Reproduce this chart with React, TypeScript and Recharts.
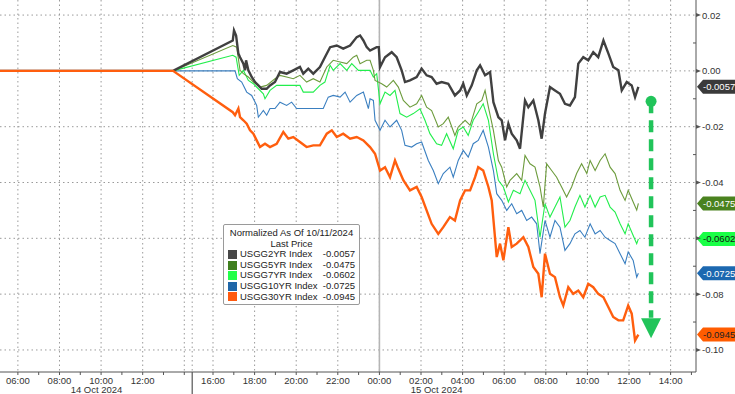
import React from 'react';
import { LineChart, Line, XAxis, YAxis, CartesianGrid, ReferenceLine, ReferenceDot } from 'recharts';

// time axis is in hours from 14 Oct 00:00 (15 Oct 00:00 = 24); the 14 Oct morning session sits ~0.62h right
const usgg2yr: [number, number][] = [
  [5.76, 0], [14.08, 0], [16.95, 0.0109], [17.01, 0.0145], [17.11, 0.0127], [17.22, 0.0062], [17.3, 0.0049],
  [17.46, 0.0026], [17.54, 0.0002], [17.59, 0.0038], [17.7, 0.0002], [17.86, -0.0022], [18.02, -0.004],
  [18.18, -0.0052], [18.34, -0.0064], [18.58, -0.0064], [18.74, -0.0052], [18.98, -0.004], [19.22, -0.0004],
  [19.54, -0.001], [19.86, 0.0002], [20.18, 0.0014], [20.34, -0.001], [20.58, 0.0008], [20.82, -0.001],
  [21.14, 0.0014], [21.38, 0.0049], [21.63, 0.0085], [21.95, 0.0091], [22.26, 0.008], [22.59, 0.0091],
  [22.91, 0.0121], [23.07, 0.0127], [23.23, 0.0109], [23.39, 0.0085], [23.55, 0.0073], [23.87, 0.0085],
  [23.97, 0.0085], [24.03, 0.0014], [24.27, 0.0049], [24.59, 0.0067], [24.83, 0.0049], [25.07, 0.0002],
  [25.23, -0.004], [25.47, -0.0034], [25.79, -0.0022], [26.03, 0.0008], [26.27, -0.0016], [26.51, -0.0022],
  [26.75, -0.0046], [26.99, -0.004], [27.31, -0.0046], [27.63, -0.0088], [27.88, -0.007], [28.03, -0.0046],
  [28.2, -0.0088], [28.44, -0.0052], [28.68, 0.0002], [28.84, 0.002], [29.08, -0.0016], [29.32, -0.0004],
  [29.48, -0.0112], [29.72, -0.0166], [29.88, -0.0177], [30.04, -0.0249], [30.2, -0.0189], [30.36, -0.0225],
  [30.6, -0.0249], [30.76, -0.0279], [31.0, -0.0106], [31.16, -0.013], [31.4, -0.0106], [31.64, -0.0177],
  [31.8, -0.0243], [31.96, -0.0153], [32.2, -0.0058], [32.44, -0.007], [32.68, -0.0082], [32.92, -0.0118],
  [33.16, -0.0124], [33.4, -0.0094], [33.56, 0.0026], [33.8, 0.0049], [34.04, 0.0038], [34.28, 0.0067],
  [34.52, 0.0049], [34.77, 0.0109], [35.01, 0.0062], [35.24, 0.0014], [35.49, 0.0002], [35.65, -0.007],
  [35.89, -0.004], [36.13, -0.0052], [36.29, -0.0094], [36.45, -0.0057],
];

const usgg5yr: [number, number][] = [
  [5.76, 0], [14.08, 0], [16.95, 0.0091], [17.14, 0.0085], [17.3, 0.0002], [17.46, -0.001], [17.7, -0.0022],
  [17.94, -0.004], [18.26, -0.0058], [18.58, -0.0052], [18.98, -0.0028], [19.22, -0.0016], [19.54, -0.0022],
  [19.86, -0.0028], [20.18, -0.0016], [20.5, -0.004], [20.82, -0.0028], [21.14, -0.004], [21.47, 0.0014],
  [21.78, 0.0038], [22.11, 0.0032], [22.43, 0.0026], [22.74, 0.0049], [22.91, 0.0056], [23.07, 0.0026],
  [23.39, 0.0038], [23.55, 0.0038], [23.71, 0.0002], [23.79, -0.0034], [24.11, -0.0046], [24.35, -0.0058],
  [24.67, -0.0034], [24.91, -0.0058], [25.15, -0.0106], [25.47, -0.013], [25.79, -0.0118], [26.03, -0.0088],
  [26.27, -0.013], [26.51, -0.0142], [26.83, -0.0201], [27.07, -0.0189], [27.31, -0.0166], [27.63, -0.0231],
  [27.79, -0.0201], [28.12, -0.0177], [28.36, -0.0195], [28.68, -0.0118], [28.92, -0.0106], [29.08, -0.007],
  [29.24, -0.013], [29.48, -0.0213], [29.72, -0.0321], [29.88, -0.0345], [30.12, -0.0416], [30.28, -0.0392],
  [30.6, -0.0368], [30.84, -0.0392], [31.0, -0.0303], [31.24, -0.0333], [31.48, -0.0345], [31.72, -0.0416],
  [31.88, -0.0488], [32.04, -0.0333], [32.28, -0.0357], [32.52, -0.0381], [32.76, -0.0416], [33.0, -0.0452],
  [33.24, -0.0416], [33.48, -0.0368], [33.72, -0.0333], [33.97, -0.0368], [34.13, -0.0321], [34.37, -0.0357],
  [34.61, -0.0321], [34.85, -0.0297], [35.09, -0.0345], [35.33, -0.0368], [35.57, -0.0428], [35.81, -0.0464],
  [35.96, -0.0428], [36.2, -0.047], [36.37, -0.0499], [36.45, -0.0475],
];

const usgg7yr: [number, number][] = [
  [5.76, 0], [14.08, 0], [16.95, 0.0056], [17.11, 0.0049], [17.26, -0.0016], [17.46, 0.0002], [17.7, -0.0034],
  [17.94, -0.0046], [18.18, -0.0064], [18.42, -0.0082], [18.5, -0.01], [18.74, -0.007], [19.06, -0.0052],
  [19.54, -0.0052], [20.18, -0.0052], [20.34, -0.0076], [20.82, -0.0076], [21.14, -0.0052], [21.38, -0.004],
  [21.63, 0.002], [21.78, 0.0002], [22.11, 0.0026], [22.43, 0.0002], [22.67, 0.0026], [22.99, 0.0002],
  [23.39, 0.0002], [23.55, 0.0002], [23.71, -0.0022], [23.87, -0.001], [24.03, -0.0118], [24.27, -0.0076],
  [24.51, -0.0088], [24.75, -0.007], [24.99, -0.0153], [25.31, -0.0166], [25.63, -0.0153], [25.95, -0.0136],
  [26.19, -0.0177], [26.43, -0.0225], [26.75, -0.0261], [26.99, -0.0267], [27.23, -0.0225], [27.55, -0.0279],
  [27.79, -0.0213], [28.03, -0.0201], [28.27, -0.0231], [28.51, -0.0177], [28.75, -0.0148], [28.99, -0.0118],
  [29.24, -0.0177], [29.48, -0.0297], [29.72, -0.0392], [29.96, -0.0416], [30.2, -0.047], [30.44, -0.0428],
  [30.76, -0.044], [31.0, -0.0392], [31.24, -0.0428], [31.48, -0.0464], [31.72, -0.0596], [31.96, -0.0476],
  [32.2, -0.0524], [32.44, -0.0488], [32.68, -0.0452], [32.92, -0.056], [33.16, -0.0536], [33.4, -0.0488],
  [33.64, -0.0446], [33.88, -0.0488], [34.13, -0.0446], [34.37, -0.0488], [34.61, -0.0452], [34.85, -0.0446],
  [35.09, -0.0488], [35.33, -0.0506], [35.57, -0.0548], [35.81, -0.0584], [35.96, -0.0548], [36.2, -0.059],
  [36.37, -0.0619], [36.45, -0.0602],
];

const usgg10yr: [number, number][] = [
  [5.76, 0], [14.08, 0], [17.06, 0], [17.17, -0.0028], [17.38, -0.004], [17.62, -0.0076], [17.86, -0.0088],
  [18.1, -0.0124], [18.18, -0.0166], [18.42, -0.0142], [18.58, -0.0159], [18.74, -0.0135], [18.98, -0.0135],
  [19.22, -0.0112], [19.54, -0.0124], [19.78, -0.0112], [20.02, -0.0135], [21.3, -0.0135], [21.54, -0.0094],
  [21.78, -0.0088], [22.11, -0.0094], [22.35, -0.0076], [22.59, -0.0112], [22.91, -0.0088], [23.23, -0.0076],
  [23.47, -0.0135], [23.55, -0.01], [23.71, -0.0106], [23.79, -0.0177], [24.03, -0.0213], [24.27, -0.0177],
  [24.51, -0.0201], [24.83, -0.0177], [25.07, -0.0213], [25.23, -0.0267], [25.55, -0.0273], [25.79, -0.0261],
  [26.03, -0.0255], [26.35, -0.0321], [26.59, -0.0357], [26.83, -0.0404], [27.07, -0.0368], [27.39, -0.0345],
  [27.55, -0.0381], [27.79, -0.0321], [28.03, -0.0285], [28.27, -0.0309], [28.51, -0.0261], [28.75, -0.0249],
  [28.99, -0.0213], [29.24, -0.0273], [29.48, -0.0357], [29.64, -0.044], [29.88, -0.0464], [30.12, -0.05],
  [30.36, -0.0476], [30.6, -0.0512], [30.84, -0.05], [31.08, -0.0536], [31.32, -0.0524], [31.56, -0.0548],
  [31.72, -0.0655], [31.96, -0.0536], [32.2, -0.0596], [32.44, -0.0536], [32.68, -0.056], [32.92, -0.0643],
  [33.16, -0.0619], [33.4, -0.0584], [33.64, -0.0572], [33.88, -0.0596], [34.13, -0.0548], [34.37, -0.0584],
  [34.61, -0.0572], [34.85, -0.0596], [35.09, -0.0608], [35.33, -0.0619], [35.57, -0.0655], [35.81, -0.0691],
  [35.96, -0.0649], [36.2, -0.0679], [36.37, -0.0739], [36.45, -0.0725],
];

const usgg30yr: [number, number][] = [
  [5.76, 0], [14.08, 0], [16.95, -0.0148], [17.06, -0.0159], [17.22, -0.0135], [17.3, -0.0166], [17.46, -0.0177],
  [17.62, -0.0189], [17.78, -0.0213], [17.94, -0.0225], [18.1, -0.0249], [18.26, -0.0273], [18.5, -0.0261],
  [18.74, -0.0273], [19.06, -0.0261], [19.38, -0.0219], [19.62, -0.0243], [19.86, -0.0237], [20.18, -0.0255],
  [20.5, -0.0273], [20.82, -0.0267], [21.14, -0.0267], [21.47, -0.0225], [21.71, -0.0213], [21.95, -0.0237],
  [22.26, -0.0225], [22.59, -0.0243], [22.91, -0.0237], [23.23, -0.0249], [23.55, -0.0273], [23.79, -0.0297],
  [24.03, -0.0357], [24.27, -0.0345], [24.51, -0.0381], [24.75, -0.0321], [24.91, -0.0351], [25.15, -0.0392],
  [25.47, -0.0428], [25.79, -0.0416], [26.03, -0.0452], [26.27, -0.05], [26.51, -0.0548], [26.83, -0.0584],
  [27.07, -0.056], [27.39, -0.0524], [27.63, -0.0536], [27.88, -0.0464], [28.12, -0.0428], [28.36, -0.0428],
  [28.6, -0.0381], [28.75, -0.0345], [28.99, -0.0357], [29.24, -0.0416], [29.4, -0.0464], [29.64, -0.0667],
  [29.8, -0.0619], [29.96, -0.0679], [30.2, -0.056], [30.36, -0.0631], [30.6, -0.0619], [30.92, -0.0596],
  [31.16, -0.0631], [31.4, -0.0703], [31.64, -0.0727], [31.8, -0.0811], [31.96, -0.0655], [32.2, -0.0727],
  [32.44, -0.0739], [32.68, -0.0811], [32.84, -0.0841], [33.08, -0.0775], [33.32, -0.0799], [33.56, -0.0787],
  [33.8, -0.0811], [34.04, -0.0763], [34.28, -0.0775], [34.52, -0.0799], [34.77, -0.0811], [35.01, -0.0847],
  [35.24, -0.0882], [35.49, -0.0894], [35.72, -0.0894], [35.96, -0.0841], [36.13, -0.087], [36.29, -0.0966],
  [36.45, -0.0945],
];

const seriesNames = ['USGG2YR Index', 'USGG5YR Index', 'USGG7YR Index', 'USGG10YR Index', 'USGG30YR Index'];
const lastPrices = [-0.0057, -0.0475, -0.0602, -0.0725, -0.0945];

// x ticks (hours)
const xMajor = [6.62, 8.62, 10.62, 12.62, 16, 18, 20, 22, 24, 26, 28, 30, 32, 34, 36, 38];
const xMajorLabels = ['06:00', '08:00', '10:00', '12:00', '16:00', '18:00', '20:00', '22:00', '00:00', '02:00', '04:00', '06:00', '08:00', '10:00', '12:00', '14:00'];
const xMinor = [7.62, 9.62, 11.62, 13.62, 17, 19, 21, 23, 25, 27, 29, 31, 33, 35, 37, 39];
const sessionBreak = 15;
const lastMorningTick = 14.62;
const dayLabelHours = [10.4, 26.75];
const dayLabels = ['14 Oct 2024', '15 Oct 2024'];

const yTicks = [0.02, 0.01, 0, -0.01, -0.02, -0.03, -0.04, -0.05, -0.06, -0.07, -0.08, -0.09, -0.1];
const yGrid = [0.02, 0, -0.02, -0.04, -0.06, -0.08, -0.1];

// annotation arrow (hour, value)
const arrowX = 37.06;
const arrowFrom = -0.0109;
const arrowTo = -0.0885;
const arrowTip = -0.0958;

const styles = [
  { line: '#404040', swatch: '#474747', badge: '#3a3a3a', text: '#ffffff', width: 2.4 },
  { line: '#6c9b3c', swatch: '#3f7f1f', badge: '#4a821f', text: '#ffffff', width: 1.1 },
  { line: '#22ee4c', swatch: '#22ff4a', badge: '#19ff46', text: '#111111', width: 1.1 },
  { line: '#3a7fc0', swatch: '#1f66a8', badge: '#1c68b0', text: '#ffffff', width: 1.1 },
  { line: '#ff5e0e', swatch: '#ff5a10', badge: '#ff5c00', text: '#222222', width: 2.4 },
];

const allSeries = [usgg2yr, usgg5yr, usgg7yr, usgg10yr, usgg30yr].map((pts) => pts.map(([t, v]) => ({ t, v })));
const drawOrder = [3, 2, 1, 0, 4];
const FONT = '"Liberation Sans", Arial, sans-serif';
const X_MAX = 39.22;

const XTick = (props: any) => {
  const { x, y, payload } = props;
  const v = payload.value;
  const mi = xMajor.indexOf(v);
  const di = dayLabelHours.indexOf(v);
  if (di >= 0) {
    return (
      <text x={x} y={y + 21} textAnchor="middle" fontSize={9.5} fontFamily={FONT} fill="#333">
        {dayLabels[di]}
      </text>
    );
  }
  if (v === sessionBreak) {
    return <line x1={x} x2={x} y1={y} y2={y + 24} stroke="#555" strokeWidth={1.2} />;
  }
  return (
    <g>
      <line x1={x} x2={x} y1={y} y2={y + 3} stroke="#555" />
      {mi >= 0 && (
        <text x={x} y={y + 11.5} textAnchor="middle" fontSize={9.5} fontFamily={FONT} fill="#333">
          {xMajorLabels[mi]}
        </text>
      )}
    </g>
  );
};

const YTick = (props: any) => {
  const { x, y, payload } = props;
  const v = payload.value;
  const major = Math.round(Math.abs(v) * 100) % 2 === 0;
  const hidden = lastPrices.some((p) => Math.abs(p - v) < 0.003);
  if (!major) return <line x1={x - 3} x2={x} y1={y} y2={y} stroke="#555" />;
  return (
    <g>
      <path d={`M${x} ${y - 2}L${x + 5} ${y}L${x} ${y + 2}Z`} fill="#555" />
      {!hidden && (
        <text x={x + 6} y={y + 3.5} fontSize={9.5} fontFamily={FONT} fill="#333">
          {v.toFixed(2)}
        </text>
      )}
    </g>
  );
};

const Badge = (i: number) => (props: any) => {
  const { cx, cy } = props;
  const s = styles[i];
  return (
    <g>
      <path
        d={`M${cx + 1} ${cy}L${cx + 7} ${cy - 7}L${cx + 39} ${cy - 7}L${cx + 39} ${cy + 7}L${cx + 7} ${cy + 7}Z`}
        fill={s.badge}
      />
      <text x={cx + 7} y={cy + 3.5} fontSize={9.5} fontFamily={FONT} fill={s.text}>
        {lastPrices[i].toFixed(4)}
      </text>
    </g>
  );
};

const ArrowHead = (props: any) => {
  const { cx, cy } = props;
  return <path d={`M${cx - 10} ${cy - 20}L${cx + 10} ${cy - 20}L${cx} ${cy}Z`} fill="#21c45a" />;
};

const LegendBox = () => (
  <div
    style={{
      position: 'absolute',
      left: 223,
      top: 224,
      width: 137,
      boxSizing: 'border-box',
      background: '#fff',
      border: '1px solid #9a9a9a',
      borderRadius: 2,
      fontFamily: FONT,
      fontSize: 9.5,
      color: '#222',
      padding: '3px 4px 2px 4px',
      lineHeight: '10.6px',
    }}
  >
    <div style={{ textAlign: 'center' }}>Normalized As Of 10/11/2024</div>
    <div style={{ textAlign: 'center' }}>Last Price</div>
    {seriesNames.map((n, i) => (
      <div key={n} style={{ display: 'flex', alignItems: 'center' }}>
        <span style={{ width: 9, height: 9, background: styles[i].swatch, marginRight: 3, display: 'inline-block' }} />
        <span style={{ flex: 1 }}>{n}</span>
        <span>{lastPrices[i].toFixed(4)}</span>
      </div>
    ))}
  </div>
);

export default function App() {
  return (
    <div style={{ position: 'absolute', left: 0, top: 0, width: 735, height: 394, overflow: 'hidden', background: '#fff' }}>
      <LineChart width={735} height={394} margin={{ top: 0, right: 0, bottom: 0, left: 0 }}>
        <CartesianGrid
          stroke="#9a9a9a"
          strokeDasharray="1.5 3"
          verticalValues={[...xMajor, lastMorningTick, sessionBreak]}
          horizontalValues={yGrid}
        />
        <XAxis
          dataKey="t"
          type="number"
          domain={[5.76, X_MAX]}
          allowDataOverflow
          ticks={[...xMajor, ...xMinor, lastMorningTick, sessionBreak, ...dayLabelHours]}
          tick={<XTick />}
          tickLine={false}
          tickSize={0}
          tickMargin={0}
          height={22}
          interval={0}
          axisLine={{ stroke: '#555' }}
        />
        <YAxis
          orientation="right"
          type="number"
          domain={[-0.1079, 0.0254]}
          allowDataOverflow
          ticks={yTicks}
          tick={<YTick />}
          tickLine={false}
          tickSize={0}
          tickMargin={0}
          width={39}
          interval={0}
          axisLine={{ stroke: '#555' }}
        />
        <ReferenceLine x={24} stroke="#b5b5b5" strokeWidth={1.6} />
        {drawOrder.map((i) => (
          <Line
            key={seriesNames[i]}
            data={allSeries[i]}
            dataKey="v"
            name={seriesNames[i]}
            type="linear"
            stroke={styles[i].line}
            strokeWidth={styles[i].width}
            dot={false}
            activeDot={false}
            isAnimationActive={false}
          />
        ))}
        <ReferenceLine
          segment={[{ x: arrowX, y: arrowFrom }, { x: arrowX, y: arrowTo }]}
          stroke="#21c45a"
          strokeWidth={4.5}
          strokeDasharray="12 7"
        />
        <ReferenceDot x={arrowX} y={arrowFrom} r={5.5} fill="#21c45a" stroke="none" />
        <ReferenceDot x={arrowX} y={arrowTip} shape={ArrowHead} ifOverflow="visible" />
        {lastPrices.map((p, i) => (
          <ReferenceDot key={i} x={X_MAX} y={p} shape={Badge(i)} ifOverflow="visible" />
        ))}
      </LineChart>
      <LegendBox />
    </div>
  );
}
